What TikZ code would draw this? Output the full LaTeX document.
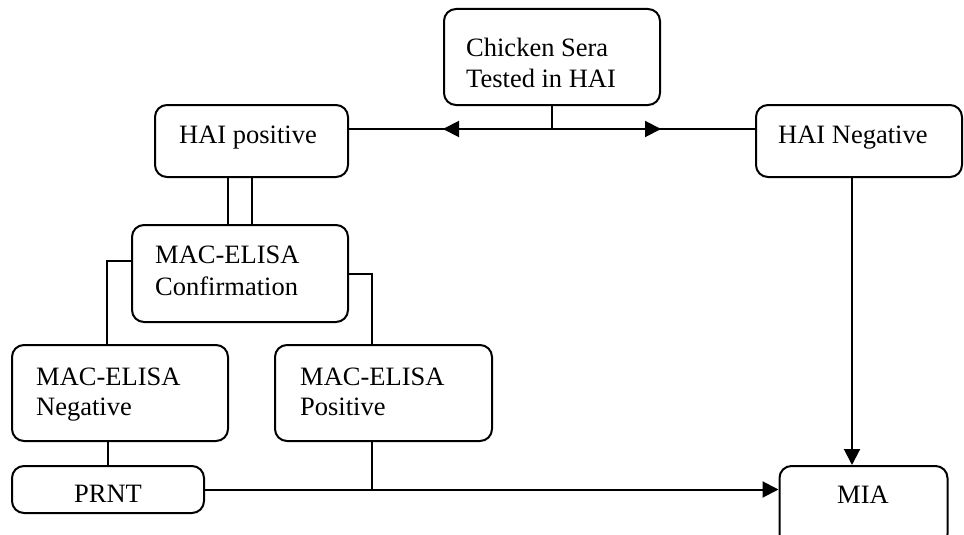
\documentclass[tikz,border=0pt]{standalone}
\usepackage{fontspec}
\setmainfont{Liberation Serif}
\usetikzlibrary{arrows.meta}
\begin{document}
\begin{tikzpicture}[x=1pt,y=-1pt,
  box/.style={draw,line width=2pt,rounded corners=12pt,inner sep=0pt},
  txt/.style={anchor=base west,inner sep=0pt,font=\fontsize{26.5}{31}\selectfont},
  ctxt/.style={anchor=base,inner sep=0pt,font=\fontsize{26.5}{31}\selectfont},
  ln/.style={line width=2pt},
  thinln/.style={line width=1.5pt},
  arr/.style={line width=2pt,-{Triangle[length=16pt,width=16pt]}}]
\useasboundingbox (0,0) rectangle (964,535);
\clip (0,0) rectangle (964,535);
% boxes
\node[box,minimum width=216pt,minimum height=96pt] (chick) at (552,57) {};
\node[box,minimum width=193pt,minimum height=72pt] (haip) at (251.5,141) {};
\node[box,minimum width=206pt,minimum height=72pt] (hain) at (859,141) {};
\node[box,minimum width=216pt,minimum height=97pt] (conf) at (240,273.5) {};
\node[box,minimum width=216pt,minimum height=96pt] (neg) at (120,393) {};
\node[box,minimum width=217pt,minimum height=96pt] (pos) at (383.5,393) {};
\node[box,minimum width=192pt,minimum height=47pt] (prnt) at (108,489.5) {};
\node[box,minimum width=168pt,minimum height=80pt] (mia) at (863.5,506) {};
% texts
\node[txt] (t1) at (466,57) {Chicken Sera};
\node[txt] (t2) at (466,88) {Tested in HAI};
\node[txt] (t3) at (179,143) {HAI positive};
\node[txt] (t4) at (778,143) {HAI Negative};
\node[txt] (t5) at (155,263) {MAC-ELISA};
\node[txt] (t6) at (155,295) {Confirmation};
\node[txt] (t7) at (36,385) {MAC-ELISA};
\node[txt] (t8) at (36,415) {Negative};
\node[txt] (t9) at (300,385) {MAC-ELISA};
\node[txt] (t10) at (300,415) {Positive};
\node[ctxt] (t11) at (108,502) {PRNT};
\node[ctxt] (t12) at (863,503) {MIA};
% connectors
\coordinate (j) at (552,129);
\draw[thinln] (haip.east |- j) -- (hain.west |- j);
\draw[ln] (chick.south) -- (j);
\draw[arr] (j) -- (chick.west |- j);
\draw[arr] (j) -- (chick.east |- j);
\coordinate (d1) at (228,177);
\coordinate (d2) at (252,177);
\draw[ln] (d1 |- haip.south) -- (d1 |- conf.north);
\draw[ln] (d2 |- haip.south) -- (d2 |- conf.north);
\coordinate (cl) at (107,261);
\draw[ln] (conf.west |- cl) -- (cl) -- (cl |- neg.north);
\coordinate (cr) at (372,274);
\draw[ln] (conf.east |- cr) -- (cr) -- (cr |- pos.north);
\draw[ln] (prnt.north |- neg.south) -- (prnt.north);
\draw[ln] (cr |- pos.south) -- (cr |- prnt.east);
\draw[arr] (prnt.east) -- (mia.west |- prnt.east);
\coordinate (hm) at (852,177);
\draw[arr] (hm |- hain.south) -- (hm |- mia.north);
\end{tikzpicture}
\end{document}
